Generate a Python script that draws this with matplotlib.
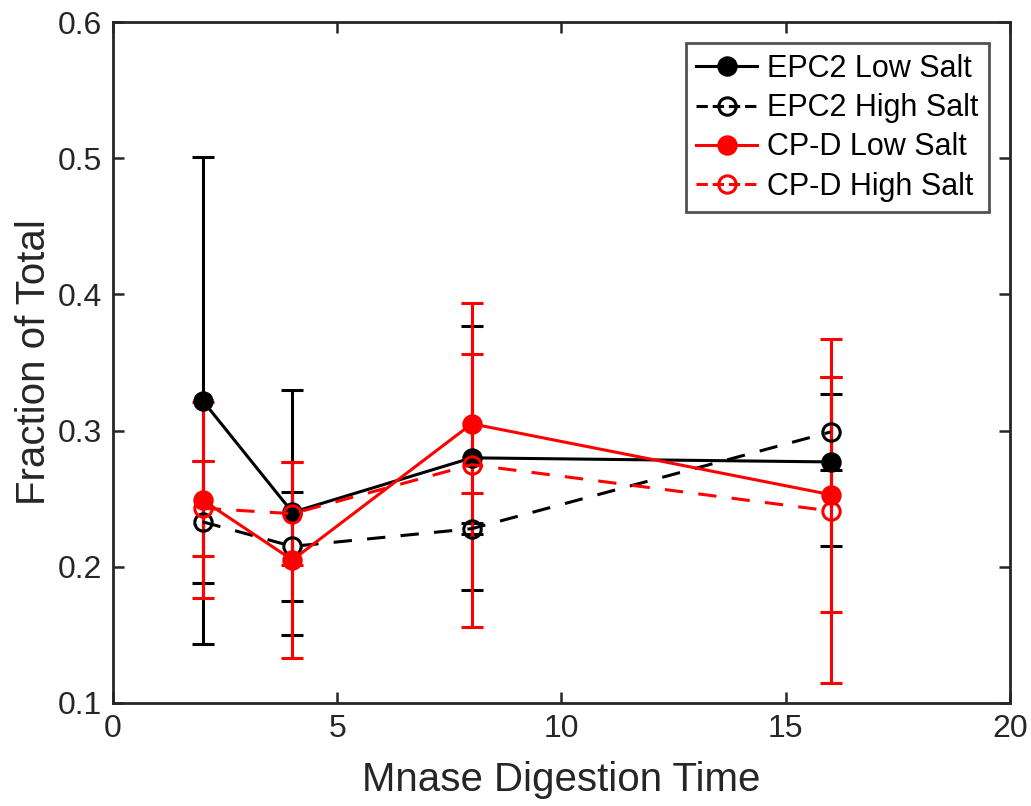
import matplotlib
matplotlib.use('Agg')
import matplotlib.pyplot as plt
from matplotlib.lines import Line2D

plt.rcParams['font.family'] = ['Liberation Sans', 'DejaVu Sans']

#
# Data
#

time = [2, 4, 8, 16]

epc2_low = [0.322, 0.240, 0.280, 0.277]
epc2_low_err = [0.179, 0.090, 0.097, 0.062]

epc2_high = [0.233, 0.215, 0.228, 0.299]
epc2_high_err = [0.045, 0.040, 0.004, 0.028]

cpd_low = [0.249, 0.205, 0.305, 0.253]
cpd_low_err = [0.072, 0.072, 0.051, 0.086]

cpd_high = [0.243, 0.239, 0.275, 0.241]
cpd_high_err = [0.035, 0.038, 0.119, 0.126]

series = [
    ('EPC2 Low Salt', epc2_low, epc2_low_err, 'black', '-', True),
    ('EPC2 High Salt', epc2_high, epc2_high_err, 'black', '--', False),
    ('CP-D Low Salt', cpd_low, cpd_low_err, 'red', '-', True),
    ('CP-D High Salt', cpd_high, cpd_high_err, 'red', '--', False),
]

#
# Graph
#

fig = plt.figure(figsize=(10.31, 8.06), dpi=100)
ax = fig.add_axes([0.1096, 0.1278, 0.8700, 0.8449])

handles = []
for label, vals, errs, color, ls, filled in series:
    face = color if filled else 'none'
    ax.errorbar(time, vals, yerr=errs, color=color, linestyle=ls, linewidth=2.2,
                marker='o', markersize=12.5, markerfacecolor=face,
                markeredgecolor=color, markeredgewidth=2.2,
                elinewidth=2.2, capsize=8, capthick=2.2,
                dashes=(6, 5) if ls == '--' else (None, None))
    handles.append(Line2D([], [], color=color, linestyle=ls, linewidth=2.2,
                          marker='o', markersize=12.5, markerfacecolor=face,
                          markeredgecolor=color, markeredgewidth=2.2))

ax.set_xlim(0, 20)
ax.set_ylim(0.1, 0.6)
ax.set_xticks([0, 5, 10, 15, 20])
ax.set_yticks([0.1, 0.2, 0.3, 0.4, 0.5, 0.6])
ax.set_yticklabels(['0.1', '0.2', '0.3', '0.4', '0.5', '0.6'])

ax.tick_params(direction='in', top=True, right=True, length=8, width=1.8,
               labelsize=23, colors='#262626', pad=8)
for side in ax.spines.values():
    side.set_linewidth(2)
    side.set_color('#262626')

ax.set_xlabel('Mnase Digestion Time', fontsize=29, color='#262626', labelpad=12)
ax.set_ylabel('Fraction of Total', fontsize=29, color='#262626', labelpad=3)

leg = ax.legend(handles=handles, labels=[s[0] for s in series], loc='upper right',
                fontsize=22, frameon=True, fancybox=False, handlelength=2.0,
                handletextpad=0.3, borderpad=0.35, labelspacing=0.3,
                borderaxespad=0.7)
leg.get_frame().set_edgecolor('#262626')
leg.get_frame().set_linewidth(2)

fig.savefig('out.png', dpi=100)
